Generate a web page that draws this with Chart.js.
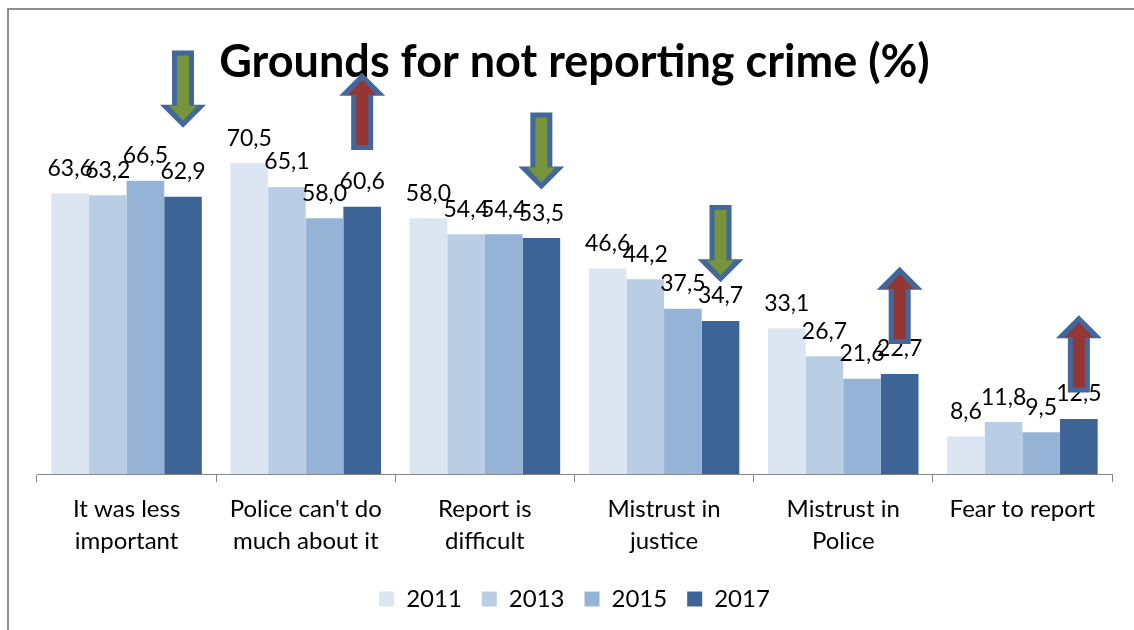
<!DOCTYPE html>
<html>
<head>
<meta charset="utf-8">
<script src="https://cdn.jsdelivr.net/npm/chart.js@4"></script>
<style>
body { margin: 0; background: #fff; }
#wrap { position: relative; width: 1134px; height: 630px; overflow: hidden; }
#frame { position: absolute; left: 7px; top: 8px; width: 1200px; height: 700px; border-left: 2px solid #8e8e8e; border-top: 2px solid #8e8e8e; }
canvas { position: absolute; left: 0; top: 0; }
</style>
</head>
<body>
<div id="wrap"><div id="frame"></div><canvas id="chart" width="1134" height="630"></canvas></div>
<script>
const categories = [['It was less', 'important'], ["Police can't do", 'much about it'], ['Report is', 'difficult'], ['Mistrust in', 'justice'], ['Mistrust in', 'Police'], ['Fear to report']];
const years = ['2011', '2013', '2015', '2017'];
const values2011 = [63.6, 70.5, 58.0, 46.6, 33.1, 8.6];
const values2013 = [63.2, 65.1, 54.4, 44.2, 26.7, 11.8];
const values2015 = [66.5, 58.0, 54.4, 37.5, 21.6, 9.5];
const values2017 = [62.9, 60.6, 53.5, 34.7, 22.7, 12.5];
// trend arrows drawn above the 2017 bar, top end given in % units
const trend = ['down', 'up', 'down', 'down', 'up', 'up'];
const arrowTop = [96, 91, 82, 61, 47, 36];

const colors = ['#dce6f2', '#b9cde5', '#95b3d7', '#3c6496'];
const series = [values2011, values2013, values2015, values2017];
const font = 'Lato';

function arrowShape(c, x, y0, dir, len, sw, hw, hl, color) {
    let yb = y0 + dir * (len - hl), yt = y0 + dir * len;
    c.beginPath();
    c.moveTo(x - sw, y0);
    c.lineTo(x - sw, yb);
    c.lineTo(x - hw, yb);
    c.lineTo(x, yt);
    c.lineTo(x + hw, yb);
    c.lineTo(x + sw, yb);
    c.lineTo(x + sw, y0);
    c.closePath();
    c.fillStyle = color;
    c.fill();
}

const barLabels = {
    id: 'barLabels',
    afterDatasetsDraw(chart) {
        const c = chart.ctx;
        c.save();
        c.font = '23px ' + font;
        c.fillStyle = '#000';
        c.textAlign = 'center';
        c.textBaseline = 'middle';
        chart.data.datasets.forEach((ds, i) => {
            chart.getDatasetMeta(i).data.forEach((bar, j) => {
                c.fillText(ds.data[j].toFixed(1).replace('.', ','), bar.x, bar.y - 25);
            });
        });
        // arrows
        const y = chart.scales.y;
        const last = chart.getDatasetMeta(3).data;
        for (let j = 0; j < trend.length; j++) {
            let x = last[j].x;
            let top = y.getPixelForValue(arrowTop[j]);
            let bottom = y.getPixelForValue(arrowTop[j] - 17.5);
            let len = bottom - top;
            let dir, start, fill;
            if (trend[j] == 'down') { dir = 1; start = top; fill = '#77933c'; }
            else { dir = -1; start = bottom; fill = '#943634'; }
            arrowShape(c, x, start, dir, len, 11, 23, 23, '#41679b');
            arrowShape(c, x, start + dir * 5, dir, len - 12, 6, 14, 15, fill);
        }
        c.restore();
    }
};

new Chart(document.getElementById('chart'), {
    type: 'bar',
    data: {
        labels: categories,
        datasets: years.map((yr, i) => ({
            label: yr,
            data: series[i],
            backgroundColor: colors[i],
            barPercentage: 1,
            categoryPercentage: 0.84
        }))
    },
    options: {
        responsive: false,
        animation: false,
        layout: { padding: { left: 37, right: 22, top: 0, bottom: 9 } },
        scales: {
            x: {
                grid: { drawOnChartArea: false, tickLength: 8, color: '#868686', offset: true },
                border: { color: '#868686', width: 1 },
                ticks: { color: '#000', font: { family: font, size: 24, lineHeight: 1.33 }, padding: 11, maxRotation: 0 },
                afterFit(scale) { scale.height -= 1; }
            },
            y: { display: false, min: 0, max: 87.3 }
        },
        plugins: {
            title: {
                display: true,
                text: 'Grounds for not reporting crime (%)',
                color: '#000',
                font: { family: font, size: 45, weight: 'bold' },
                padding: { top: 35, bottom: 0 }
            },
            legend: {
                position: 'bottom',
                labels: { boxWidth: 15, boxHeight: 15, color: '#000', font: { family: font, size: 24 }, padding: 20 }
            },
            tooltip: { enabled: false }
        }
    },
    plugins: [barLabels]
});
</script>
</body>
</html>
